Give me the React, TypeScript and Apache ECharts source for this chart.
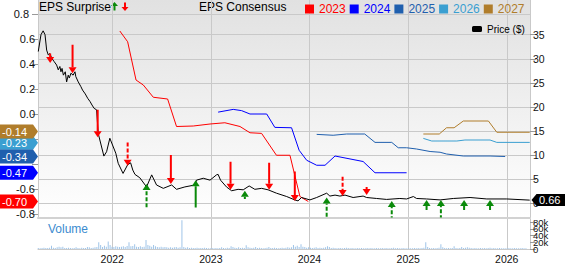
import React, { useEffect, useRef } from "react";
import * as echarts from "echarts";

const FONT = '"Liberation Sans", Arial, Helvetica, sans-serif';
const GRID = "#c9c9c9";

const xStart = "2021-04-01";
const xEnd = "2026-03-28";
const yearTicks = ["2022-01-01", "2023-01-01", "2024-01-01", "2025-01-01", "2026-01-01"];
const epsTicks = [-0.8, -0.6, -0.4, -0.2, 0, 0.2, 0.4, 0.6, 0.8];
const epsLabels = [-0.8, -0.6, 0, 0.2, 0.4, 0.6];
const epsTopLabel = "0.8";
const priceTicks = [0, 5, 10, 15, 20, 25, 30, 35];
const volumeTicksA = [0, 40, 80];
const volumeTicksB = [20, 60];

const consensusYears = ["2023", "2024", "2025", "2026", "2027"];
const consensusColors = ["#ff0000", "#0000ff", "#1f5fae", "#3a9fd1", "#b07d2b"];
const consensusLatest = [-0.7, -0.47, -0.34, -0.23, -0.14];
const lastPrice = 0.66;

const cons2023: [string, number][] = [
  ["2022-01-29", 0.664], ["2022-02-27", 0.578], ["2022-03-30", 0.272], ["2022-04-26", 0.232],
  ["2022-06-02", 0.134], ["2022-07-25", 0.12], ["2022-08-27", -0.1], ["2022-10-28", -0.096],
  ["2022-12-29", -0.08], ["2023-02-22", -0.07], ["2023-04-19", -0.1], ["2023-05-26", -0.15],
  ["2023-07-08", -0.155], ["2023-09-01", -0.33], ["2023-10-21", -0.33], ["2023-11-27", -0.66],
  ["2023-12-28", -0.7],
];
const cons2024: [string, number][] = [
  ["2023-01-28", 0.015], ["2023-03-25", 0.037], ["2023-04-25", 0.027], ["2023-05-26", 0.0],
  ["2023-07-27", 0.0], ["2023-08-26", -0.107], ["2023-10-27", -0.11], ["2023-11-24", -0.29],
  ["2023-12-22", -0.37], ["2024-01-28", -0.41], ["2024-02-28", -0.41], ["2024-04-05", -0.336],
  ["2024-07-18", -0.38], ["2024-08-31", -0.47], ["2024-12-26", -0.47],
];
const cons2025: [string, number][] = [
  ["2024-01-28", -0.163], ["2024-03-29", -0.17], ["2024-05-18", -0.16], ["2024-07-24", -0.16],
  ["2024-08-31", -0.227], ["2024-11-01", -0.227], ["2024-11-25", -0.27], ["2024-12-26", -0.27],
  ["2025-02-01", -0.28], ["2025-03-23", -0.3], ["2025-04-29", -0.306], ["2025-05-23", -0.32],
  ["2025-07-24", -0.336], ["2025-10-31", -0.336], ["2025-12-26", -0.34],
];
const cons2026: [string, number][] = [
  ["2025-02-26", -0.195], ["2025-03-29", -0.216], ["2025-06-30", -0.216], ["2025-07-30", -0.208],
  ["2025-10-31", -0.208], ["2025-11-25", -0.227], ["2026-03-27", -0.227],
];
const cons2027: [string, number][] = [
  ["2025-02-26", -0.16], ["2025-04-26", -0.16], ["2025-05-23", -0.11], ["2025-06-20", -0.11],
  ["2025-07-24", -0.056], ["2025-10-25", -0.056], ["2025-11-25", -0.146], ["2026-03-27", -0.146],
];

const priceData: [string, number][] = [
  ["2021-04-02", 31.5], ["2021-04-12", 35.0], ["2021-04-20", 35.8], ["2021-04-27", 35.0],
  ["2021-05-03", 31.8], ["2021-05-09", 30.8], ["2021-05-15", 31.1], ["2021-05-22", 30.1],
  ["2021-05-31", 29.4], ["2021-06-09", 28.7], ["2021-06-15", 27.7], ["2021-06-21", 28.4],
  ["2021-06-25", 27.3], ["2021-06-29", 28.0], ["2021-07-04", 26.6], ["2021-07-11", 27.3],
  ["2021-07-16", 25.2], ["2021-07-22", 26.6], ["2021-07-26", 26.0], ["2021-08-01", 27.0],
  ["2021-08-09", 26.6], ["2021-08-16", 27.3], ["2021-08-19", 26.3], ["2021-08-28", 25.2],
  ["2021-09-07", 24.2], ["2021-09-13", 23.5], ["2021-09-23", 22.7], ["2021-10-02", 21.8],
  ["2021-10-11", 21.1], ["2021-10-18", 20.4], ["2021-10-26", 19.7], ["2021-11-04", 19.4],
  ["2021-11-10", 14.5], ["2021-12-01", 9.8], ["2021-12-11", 10.7], ["2021-12-23", 13.5],
  ["2022-01-02", 12.1], ["2022-01-14", 10.4], ["2022-01-23", 8.3], ["2022-02-10", 6.2],
  ["2022-02-27", 8.0], ["2022-03-10", 8.4], ["2022-03-18", 6.9], ["2022-03-26", 6.0],
  ["2022-04-13", 5.3], ["2022-05-08", 3.4], ["2022-05-27", 5.9], ["2022-06-14", 3.8],
  ["2022-07-09", 3.1], ["2022-08-09", 3.8], ["2022-08-27", 2.9], ["2022-09-27", 3.4],
  ["2022-11-03", 3.8], ["2022-11-09", 4.8], ["2022-12-04", 5.2], ["2022-12-29", 4.8],
  ["2023-01-22", 5.9], ["2023-01-28", 6.0], ["2023-02-06", 4.8], ["2023-02-28", 3.4],
  ["2023-03-19", 2.6], ["2023-04-12", 2.9], ["2023-05-01", 2.8], ["2023-05-23", 3.6],
  ["2023-06-13", 2.9], ["2023-07-08", 3.1], ["2023-08-01", 2.8], ["2023-09-01", 2.1],
  ["2023-10-09", 1.4], ["2023-11-08", 0.7], ["2023-11-20", 0.5], ["2023-12-03", 1.2],
  ["2024-01-03", 0.7], ["2024-01-28", 1.2], ["2024-03-05", 2.1], ["2024-03-17", 1.5],
  ["2024-04-05", 1.7], ["2024-04-23", 1.5], ["2024-05-12", 1.7], ["2024-06-11", 1.2],
  ["2024-07-18", 1.5], ["2024-07-31", 1.2], ["2024-09-06", 1.0], ["2024-10-13", 0.8],
  ["2024-12-01", 1.0], ["2024-12-26", 0.9], ["2025-01-20", 1.4], ["2025-02-01", 1.0],
  ["2025-03-10", 0.9], ["2025-04-29", 0.7], ["2025-06-17", 1.0], ["2025-08-18", 1.2],
  ["2025-10-19", 0.9], ["2026-01-01", 0.9], ["2026-03-27", 0.66],
];

// [date, tail price, head price, dashed]
const surpriseArrows: [string, number, number, number][] = [
  ["2021-05-16", 31.1, 29.1, 0], ["2021-08-07", 32.9, 27.0, 0], ["2021-11-08", 19.4, 13.7, 0],
  ["2022-02-27", 12.6, 7.8, 1], ["2022-05-08", -0.8, 4.0, 1], ["2022-08-06", 10.0, 4.0, 0],
  ["2022-11-06", -0.9, 4.8, 0], ["2023-03-15", 8.6, 2.8, 0], ["2023-05-07", 0.9, 2.6, 1],
  ["2023-08-05", 8.4, 2.8, 0], ["2023-11-08", 6.6, 0.5, 0], ["2024-03-05", -2.8, 1.2, 1],
  ["2024-05-03", 5.5, 1.5, 1], ["2024-07-31", 3.4, 1.7, 1], ["2024-11-01", -3.5, 0.5, 1],
  ["2025-03-10", -1.4, 0.7, 0], ["2025-05-02", -3.3, 0.7, 1], ["2025-07-27", -1.4, 0.7, 0],
  ["2025-10-31", -1.4, 0.7, 0],
];

// weekly volume (thousands), first week starting 2021-04-02
const volumeStart = "2021-04-02";
const vol2021 = [3, 2, 3, 4, 3, 3, 4, 10, 4, 3, 5, 7, 5, 7, 3, 3, 4, 3, 2, 3, 5, 3, 2, 4, 3, 3, 6, 5, 3, 4, 5, 6, 20, 12, 6, 10, 7, 22, 12];
const vol2022 = [7, 6, 8, 7, 6, 7, 8, 6, 9, 20, 8, 9, 14, 7, 6, 8, 6, 7, 27, 12, 10, 7, 12, 8, 6, 5, 7, 5, 6, 5, 4, 5, 4, 5, 6, 4, 5, 85, 6, 4, 5, 3, 4, 3, 3, 4, 3, 3, 3, 4, 3, 2];
const vol2023 = [2, 3, 2, 3, 2, 3, 5, 3, 2, 4, 3, 8, 6, 4, 3, 5, 3, 4, 3, 11, 5, 4, 3, 4, 6, 3, 4, 3, 2, 3, 4, 6, 3, 3, 4, 3, 2, 3, 4, 3, 4, 5, 4, 5, 12, 7, 10, 6, 14, 7, 6, 4];
const vol2024 = [5, 4, 3, 4, 5, 3, 4, 3, 4, 5, 8, 6, 3, 4, 3, 2, 3, 3, 2, 3, 4, 3, 2, 3, 2, 2, 3, 2, 3, 2, 2, 3, 2, 3, 2, 2, 3, 2, 2, 3, 2, 3, 2, 2, 3, 4, 2, 3, 2, 2, 3, 2];
const vol2025 = [2, 3, 2, 2, 3, 2, 3, 2, 3, 4, 20, 6, 3, 2, 3, 2, 3, 4, 14, 5, 3, 2, 3, 2, 3, 8, 3, 2, 3, 6, 3, 4, 5, 4, 3, 2, 3, 2, 2, 3, 2, 3, 2, 3, 4, 2, 3, 2, 2, 3, 2, 2];
const vol2026 = [2, 2, 3, 2, 2, 3, 2, 2, 2, 3, 2, 2];

const DAY = 86400000;
function ts(s: string) {
  const [y, m, d] = s.split("-").map(Number);
  return Date.UTC(y, m - 1, d);
}

export default function App() {
  const ref = useRef<HTMLDivElement>(null);
  useEffect(() => {
    if (!ref.current) return;
    const chart = echarts.init(ref.current, null, { renderer: "svg" });
    const volumes = [...vol2021, ...vol2022, ...vol2023, ...vol2024, ...vol2025, ...vol2026];
    const volumeData = volumes.map((v, i) => [ts(volumeStart) + i * 7 * DAY, v]);
    const toXY = (d: [string, number][]) => d.map(([t, v]) => [ts(t), v]);
    const consensus = [cons2023, cons2024, cons2025, cons2026, cons2027].map(toXY);
    const yearTickTs = yearTicks.map(ts);
    const xMin = ts(xStart);
    const xMax = ts(xEnd);

    const labelCommon = {
      color: "#111",
      fontFamily: FONT,
      margin: 3,
      interval: 0,
      hideOverlap: false,
      showMinLabel: true,
      showMaxLabel: true,
    };

    const xCommon = (gridIndex: number, showLabels: boolean) => ({
      type: "value",
      gridIndex,
      min: xMin,
      max: xMax,
      axisLine: { show: true, onZero: false, lineStyle: { color: gridIndex === 0 ? "#d2d2d2" : GRID, width: gridIndex === 0 ? 2 : 1 } },
      axisTick: { show: false, customValues: yearTickTs },
      splitLine: { show: true, lineStyle: { color: GRID, width: 1 } },
      axisLabel: {
        ...labelCommon,
        show: showLabels,
        customValues: yearTickTs,
        formatter: (v: number) => String(new Date(v).getUTCFullYear()),
        fontSize: 10.5,
        margin: 4,
      },
    });

    const volAxis = (ticks: number[], showLine: boolean) => ({
      type: "value", gridIndex: 1, position: "right", min: 0, max: 89, offset: 0,
      axisLine: { show: showLine, lineStyle: { color: GRID } },
      axisTick: { show: true, length: 6, customValues: ticks, lineStyle: { color: "#999" } },
      splitLine: { show: false },
      axisLabel: {
        ...labelCommon,
        customValues: ticks, formatter: (v: number) => (v === 0 ? "0" : v + "k"), fontSize: 9.5,
      },
    });

    const option: any = {
      animation: false,
      backgroundColor: "#ffffff",
      textStyle: { fontFamily: FONT },
      grid: [
        {
          left: 38, right: 35, top: 0, height: 217.5, show: true, borderWidth: 0,
          backgroundColor: new echarts.graphic.LinearGradient(0, 0, 0, 1, [
            { offset: 0, color: "#e1e1e1" },
            { offset: 1, color: "#ffffff" },
          ]),
        },
        { left: 38, right: 35, top: 219, height: 34.5, show: true, borderWidth: 0, backgroundColor: "#ffffff" },
      ],
      xAxis: [xCommon(0, false), xCommon(1, true)],
      yAxis: [
        {
          type: "value", gridIndex: 0, position: "left", min: -0.828, max: 0.912,
          axisLine: { show: true, lineStyle: { color: GRID } },
          axisTick: { show: true, length: 6, customValues: epsTicks, lineStyle: { color: "#999" } },
          splitLine: { show: false },
          axisLabel: {
            ...labelCommon,
            customValues: epsLabels, formatter: (v: number) => v.toFixed(1), fontSize: 11,
          },
        },
        {
          type: "value", gridIndex: 0, position: "right", min: -2.95, max: 42.2,
          axisLine: { show: true, lineStyle: { color: GRID } },
          axisTick: { show: true, length: 6, customValues: priceTicks, lineStyle: { color: "#999" } },
          splitLine: { show: true, lineStyle: { color: GRID, width: 1 } },
          axisLabel: { ...labelCommon, customValues: priceTicks, fontSize: 10.5 },
        },
        volAxis(volumeTicksA, true),
        volAxis(volumeTicksB, false),
      ],
      legend: [
        {
          left: 300, top: -2, icon: "rect", itemWidth: 9, itemHeight: 9, itemGap: 4,
          selectedMode: false,
          textStyle: { fontSize: 12, fontFamily: FONT },
          data: consensusYears.map((n, i) => ({ name: n, textStyle: { color: consensusColors[i] } })),
        },
        {
          left: 467, top: 19, icon: "roundRect", itemWidth: 10, itemHeight: 6,
          selectedMode: false,
          textStyle: { fontSize: 10, color: "#000", fontFamily: FONT },
          data: ["Price ($)"],
        },
      ],
      graphic: [
        { type: "text", x: 29, y: 14, z: 100, style: { text: epsTopLabel, fill: "#111", fontSize: 11, fontFamily: FONT, verticalAlign: "middle", align: "right" } },
        { type: "text", x: 39, y: 7, style: { text: "EPS Surprise", fill: "#000", fontSize: 12, fontFamily: FONT, verticalAlign: "middle" } },
        { type: "polygon", shape: { points: [[114.5, 2], [118, 6], [115.5, 6], [115.5, 10.5], [113.5, 10.5], [113.5, 6], [111, 6]] }, style: { fill: "#0a8a0a" } },
        { type: "polygon", shape: { points: [[125, 11], [128.5, 7], [126, 7], [126, 2.5], [124, 2.5], [124, 7], [121.5, 7]] }, style: { fill: "#ff0000" } },
        { type: "text", x: 199, y: 7, style: { text: "EPS Consensus", fill: "#000", fontSize: 12, fontFamily: FONT, verticalAlign: "middle" } },
        { type: "text", x: 48, y: 229, style: { text: "Volume", fill: "#3b8bcf", fontSize: 12, fontFamily: FONT, verticalAlign: "middle" } },
      ],
      series: [
        ...consensus.map((d, i) => ({
          name: consensusYears[i],
          type: "line",
          xAxisIndex: 0,
          yAxisIndex: 0,
          data: d,
          showSymbol: false,
          symbol: "none",
          color: consensusColors[i],
          lineStyle: { width: 1, color: consensusColors[i] },
          z: 3,
          ...(i === 0
            ? {
                markLine: {
                  silent: true, symbol: "none", label: { show: false },
                  lineStyle: { color: GRID, type: "solid", width: 1 },
                  data: [{ yAxis: 0.8 }],
                },
              }
            : {}),
        })),
        {
          name: "Price ($)",
          type: "line",
          xAxisIndex: 0,
          yAxisIndex: 1,
          data: toXY(priceData),
          showSymbol: false,
          symbol: "none",
          color: "#000",
          lineStyle: { width: 1, color: "#000" },
          z: 4,
        },
        {
          type: "custom",
          xAxisIndex: 0,
          yAxisIndex: 1,
          clip: true,
          z: 5,
          data: surpriseArrows.map(([d, a, b, c]) => [ts(d), a, b, c]),
          renderItem: (params: any, api: any) => {
            const t = api.coord([api.value(0), api.value(1)]);
            const h = api.coord([api.value(0), api.value(2)]);
            const up = h[1] < t[1];
            const color = up ? "#0a8a0a" : "#ff0000";
            const dashed = api.value(3) === 1;
            const baseY = h[1] + (up ? 6 : -6);
            return {
              type: "group",
              children: [
                {
                  type: "line",
                  shape: { x1: t[0], y1: t[1], x2: h[0], y2: baseY },
                  style: { stroke: color, lineWidth: 2, lineDash: dashed ? [4, 2] : null },
                },
                {
                  type: "polygon",
                  shape: { points: [[h[0] - 4, baseY], [h[0] + 4, baseY], [h[0], h[1]]] },
                  style: { fill: color },
                },
              ],
            };
          },
        },
        {
          type: "bar",
          xAxisIndex: 1,
          yAxisIndex: 2,
          data: volumeData,
          barWidth: 1,
          itemStyle: { color: "#9fc4e8" },
        },
        {
          type: "custom",
          xAxisIndex: 0,
          yAxisIndex: 0,
          clip: false,
          z: 20,
          data: [3, 2, 4, 1, 0].map((i) => [xMin, consensusLatest[i], i]),
          renderItem: (params: any, api: any) => {
            const cs = params.coordSys;
            const y = api.coord([api.value(0), api.value(1)])[1];
            const x0 = cs.x;
            const hh = 7;
            const color = consensusColors[api.value(2)];
            return {
              type: "group",
              children: [
                {
                  type: "polygon",
                  shape: { points: [[0, y - hh], [x0 - 5, y - hh], [x0, y], [x0 - 5, y + hh], [0, y + hh]] },
                  style: { fill: color },
                },
                {
                  type: "text",
                  x: 2,
                  y: y,
                  style: { text: api.value(1).toFixed(2), fill: "#fff", fontSize: 11, fontFamily: FONT, verticalAlign: "middle", align: "left" },
                },
              ],
            };
          },
        },
        {
          type: "custom",
          xAxisIndex: 0,
          yAxisIndex: 1,
          clip: false,
          z: 20,
          data: [[xMax, lastPrice]],
          renderItem: (params: any, api: any) => {
            const cs = params.coordSys;
            const y = api.coord([api.value(0), api.value(1)])[1];
            const xr = cs.x + cs.width + 1.5;
            const hh = 6;
            return {
              type: "group",
              children: [
                {
                  type: "polygon",
                  shape: { points: [[xr, y], [xr + 5, y - hh], [565, y - hh], [565, y + hh], [xr + 5, y + hh]] },
                  style: { fill: "#000" },
                },
                {
                  type: "text",
                  x: xr + 7.5,
                  y: y,
                  style: { text: api.value(1).toFixed(2), fill: "#fff", fontSize: 11, fontFamily: FONT, verticalAlign: "middle", align: "left" },
                },
              ],
            };
          },
        },
      ],
    };
    chart.setOption(option);
    return () => chart.dispose();
  }, []);
  return <div ref={ref} style={{ width: 565, height: 264, position: "fixed", left: 0, top: 0 }} />;
}
